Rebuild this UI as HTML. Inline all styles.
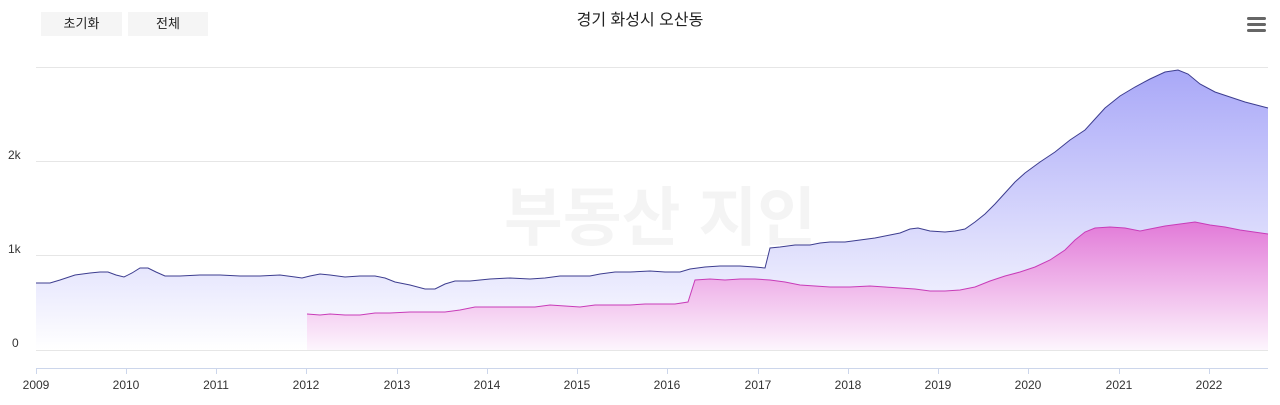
<!DOCTYPE html>
<html><head><meta charset="utf-8"><style>
body{margin:0;background:#fff;font-family:"Liberation Sans","Noto Sans CJK KR",sans-serif;}
.btn{position:absolute;top:12px;height:24px;background:#f5f5f5;font-size:13px;line-height:24px;text-align:center;color:#222}
</style></head><body>
<div style="position:relative;width:1280px;height:405px;overflow:hidden">
<div class="btn" style="left:41px;width:81px">초기화</div>
<div class="btn" style="left:128px;width:80px">전체</div>
<svg width="1280" height="405" style="position:absolute;left:0;top:0">
<defs>
<linearGradient id="gb" gradientUnits="userSpaceOnUse" x1="0" y1="70" x2="0" y2="350"><stop offset="0" stop-color="#a9a8f8"/><stop offset="1" stop-color="#ffffff"/></linearGradient>
<linearGradient id="gp" gradientUnits="userSpaceOnUse" x1="0" y1="222" x2="0" y2="350"><stop offset="0" stop-color="#e27ad8"/><stop offset="1" stop-color="#fdf5fd"/></linearGradient>
</defs>
<text x="640" y="25" text-anchor="middle" font-size="16" fill="#222" font-family="Liberation Sans, Noto Sans CJK KR, sans-serif">경기 화성시 오산동</text>
<g fill="#666"><rect x="1247" y="17" width="19" height="3" rx="1.5"/><rect x="1247" y="23" width="19" height="3" rx="1.5"/><rect x="1247" y="29" width="19" height="3" rx="1.5"/></g>
<g stroke="#e6e6e6" stroke-width="1">
<line x1="36" y1="67.5" x2="1268" y2="67.5"/><line x1="36" y1="161.5" x2="1268" y2="161.5"/><line x1="36" y1="255.5" x2="1268" y2="255.5"/><line x1="36" y1="350.5" x2="1268" y2="350.5"/>
</g>
<g font-size="12" fill="#333"><text x="8" y="159">2k</text><text x="8" y="253">1k</text><text x="12" y="347">0</text></g>
<text x="660" y="240" text-anchor="middle" font-size="64" font-weight="bold" fill="#f4f4f4">부동산 지인</text>
<path fill="url(#gb)" d="M36,283 L50,283 L60,280 L75,275 L90,273 L100,272 L108,272 L116,275 L124,277 L132,273 L140,268 L148,268 L156,272 L165,276 L180,276 L200,275 L220,275 L240,276 L260,276 L280,275 L295,277 L302,278 L310,276 L320,274 L330,275 L345,277 L360,276 L375,276 L385,278 L395,282 L410,285 L425,289 L435,289 L445,284 L455,281 L470,281 L490,279 L510,278 L530,279 L545,278 L560,276 L575,276 L590,276 L600,274 L615,272 L630,272 L650,271 L665,272 L680,272 L690,269 L705,267 L720,266 L740,266 L755,267 L765,268 L770,248 L780,247 L795,245 L810,245 L820,243 L830,242 L845,242 L860,240 L875,238 L890,235 L900,233 L910,229 L918,228 L930,231 L945,232 L955,231 L965,229 L975,222 L985,214 L995,204 L1005,193 L1015,182 L1025,173 L1040,162 L1055,152 L1070,140 L1085,130 L1095,119 L1105,108 L1120,96 L1135,87 L1150,79 L1165,72 L1178,70 L1188,74 L1200,84 L1215,92 L1230,97 L1245,102 L1268,108 L1268,350 L36,350 Z"/>
<path fill="url(#gp)" d="M307,314 L320,315 L330,314 L345,315 L360,315 L375,313 L390,313 L410,312 L430,312 L445,312 L460,310 L475,307 L490,307 L510,307 L535,307 L550,305 L565,306 L580,307 L595,305 L610,305 L630,305 L645,304 L660,304 L675,304 L688,302 L695,280 L710,279 L725,280 L740,279 L755,279 L770,280 L785,282 L800,285 L815,286 L830,287 L850,287 L870,286 L885,287 L900,288 L915,289 L930,291 L945,291 L960,290 L975,287 L990,281 L1005,276 L1020,272 L1035,267 L1050,260 L1065,250 L1075,240 L1085,232 L1095,228 L1110,227 L1125,228 L1140,231 L1150,229 L1165,226 L1180,224 L1195,222 L1210,225 L1225,227 L1240,230 L1268,234 L1268,350 L307,350 Z"/>
<path fill="none" stroke="#3d3d8f" stroke-width="1" d="M36,283 L50,283 L60,280 L75,275 L90,273 L100,272 L108,272 L116,275 L124,277 L132,273 L140,268 L148,268 L156,272 L165,276 L180,276 L200,275 L220,275 L240,276 L260,276 L280,275 L295,277 L302,278 L310,276 L320,274 L330,275 L345,277 L360,276 L375,276 L385,278 L395,282 L410,285 L425,289 L435,289 L445,284 L455,281 L470,281 L490,279 L510,278 L530,279 L545,278 L560,276 L575,276 L590,276 L600,274 L615,272 L630,272 L650,271 L665,272 L680,272 L690,269 L705,267 L720,266 L740,266 L755,267 L765,268 L770,248 L780,247 L795,245 L810,245 L820,243 L830,242 L845,242 L860,240 L875,238 L890,235 L900,233 L910,229 L918,228 L930,231 L945,232 L955,231 L965,229 L975,222 L985,214 L995,204 L1005,193 L1015,182 L1025,173 L1040,162 L1055,152 L1070,140 L1085,130 L1095,119 L1105,108 L1120,96 L1135,87 L1150,79 L1165,72 L1178,70 L1188,74 L1200,84 L1215,92 L1230,97 L1245,102 L1268,108"/>
<path fill="none" stroke="#c83cb8" stroke-width="1" d="M307,314 L320,315 L330,314 L345,315 L360,315 L375,313 L390,313 L410,312 L430,312 L445,312 L460,310 L475,307 L490,307 L510,307 L535,307 L550,305 L565,306 L580,307 L595,305 L610,305 L630,305 L645,304 L660,304 L675,304 L688,302 L695,280 L710,279 L725,280 L740,279 L755,279 L770,280 L785,282 L800,285 L815,286 L830,287 L850,287 L870,286 L885,287 L900,288 L915,289 L930,291 L945,291 L960,290 L975,287 L990,281 L1005,276 L1020,272 L1035,267 L1050,260 L1065,250 L1075,240 L1085,232 L1095,228 L1110,227 L1125,228 L1140,231 L1150,229 L1165,226 L1180,224 L1195,222 L1210,225 L1225,227 L1240,230 L1268,234"/>
<line x1="36" y1="368.5" x2="1268" y2="368.5" stroke="#ccd6eb"/>
<g stroke="#ccd6eb">
<line x1="36.5" y1="368" x2="36.5" y2="374"/><line x1="126.5" y1="368" x2="126.5" y2="374"/><line x1="216.5" y1="368" x2="216.5" y2="374"/><line x1="306.5" y1="368" x2="306.5" y2="374"/><line x1="397.5" y1="368" x2="397.5" y2="374"/><line x1="487.5" y1="368" x2="487.5" y2="374"/><line x1="577.5" y1="368" x2="577.5" y2="374"/><line x1="667.5" y1="368" x2="667.5" y2="374"/><line x1="758.5" y1="368" x2="758.5" y2="374"/><line x1="848.5" y1="368" x2="848.5" y2="374"/><line x1="938.5" y1="368" x2="938.5" y2="374"/><line x1="1028.5" y1="368" x2="1028.5" y2="374"/><line x1="1119.5" y1="368" x2="1119.5" y2="374"/><line x1="1209.5" y1="368" x2="1209.5" y2="374"/>
</g>
<g font-size="12" fill="#333" text-anchor="middle">
<text x="36" y="389">2009</text><text x="126" y="389">2010</text><text x="216" y="389">2011</text><text x="306" y="389">2012</text><text x="397" y="389">2013</text><text x="487" y="389">2014</text><text x="577" y="389">2015</text><text x="667" y="389">2016</text><text x="758" y="389">2017</text><text x="848" y="389">2018</text><text x="938" y="389">2019</text><text x="1028" y="389">2020</text><text x="1119" y="389">2021</text><text x="1209" y="389">2022</text>
</g>
</svg>
</div>
</body></html>
